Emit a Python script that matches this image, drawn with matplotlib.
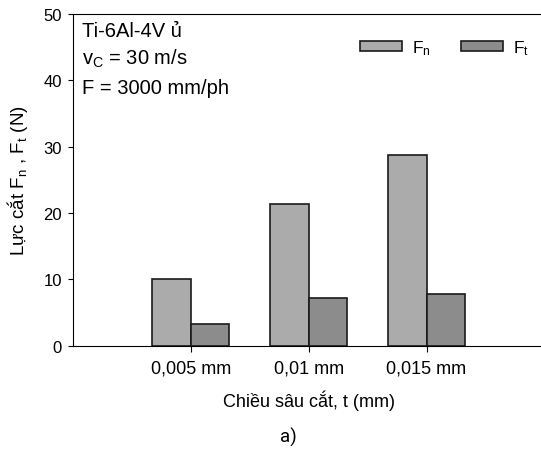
import numpy as np
import matplotlib
matplotlib.use("Agg")
import matplotlib.pyplot as plt

# values
depths = ["0,005 mm", "0,01 mm", "0,015 mm"]
f_n = [10.1, 21.4, 28.8]
f_t = [3.2, 7.2, 7.8]

plt.rcParams["font.family"] = ["Liberation Sans", "DejaVu Sans"]
plt.rcParams["mathtext.fontset"] = "custom"
plt.rcParams["mathtext.rm"] = "Liberation Sans"
plt.rcParams["mathtext.it"] = "Liberation Sans"

W, H = 541, 456
fig = plt.figure(figsize=(W / 100, H / 100), dpi=100)
# axes box in pixels: left 72.7, right ~544.5 (just past the edge), top 15, bottom 346.7
ax = fig.add_axes([72.7 / W, 1 - 346.7 / H, 471.8 / W, 331.7 / H])

x = np.arange(len(depths))
w = 0.325
ax.bar(x - w / 2, f_n, w, color="#ababab", edgecolor="#1a1a1a", linewidth=1.2, label="F$_{n}$")
ax.bar(x + w / 2, f_t, w, color="#8c8c8c", edgecolor="#1a1a1a", linewidth=1.2, label="F$_{t}$")

ax.set_xlim(-1, 3)
ax.set_ylim(0, 50)
ax.set_yticks(np.arange(0, 51, 10))
ax.set_xticks(x)
ax.set_xticklabels(depths)
ax.tick_params(axis="y", direction="out", length=3.3, width=0.8, pad=4.5, labelsize=12)
ax.tick_params(axis="x", direction="out", length=4.3, width=0.8, pad=5.5, labelsize=13)
for s in ["left", "top", "bottom"]:
    ax.spines[s].set_linewidth(0.8)
ax.spines["right"].set_visible(False)

ax.set_xlabel("Chiều sâu cắt, t (mm)", fontsize=13)
ax.xaxis.set_label_coords(0.5, -0.132)
ax.xaxis.label.set_va("top")
ax.set_ylabel("Lực cắt F$_{n}$ , F$_{t}$ (N)", fontsize=13.5)
ax.yaxis.label.set_va("center")
ax.yaxis.set_label_coords(-0.116, 0.5)

ax.text(0.019, 0.9328, "Ti-6Al-4V ủ", transform=ax.transAxes, fontsize=14.5, va="baseline")
ax.text(0.019, 0.850, "v$_{C}$ = 30 m/s", transform=ax.transAxes, fontsize=14.5, va="baseline")
ax.text(0.019, 0.7618, "F = 3000 mm/ph", transform=ax.transAxes, fontsize=14.5, va="baseline")

ax.legend(loc="center left", bbox_to_anchor=(360 / W, 1 - 48.5 / H), bbox_transform=fig.transFigure,
          ncol=2, frameon=False, fontsize=12.5, handlelength=2.4, handleheight=0.55,
          handletextpad=0.6, columnspacing=1.75, borderpad=0, borderaxespad=0)

fig.text(288 / W, 1 - 437 / H, "a)", ha="center", va="center", fontsize=13.5,
         family=["Liberation Sans Narrow", "Roboto", "DejaVu Sans"])

fig.savefig("out.png", dpi=100)
